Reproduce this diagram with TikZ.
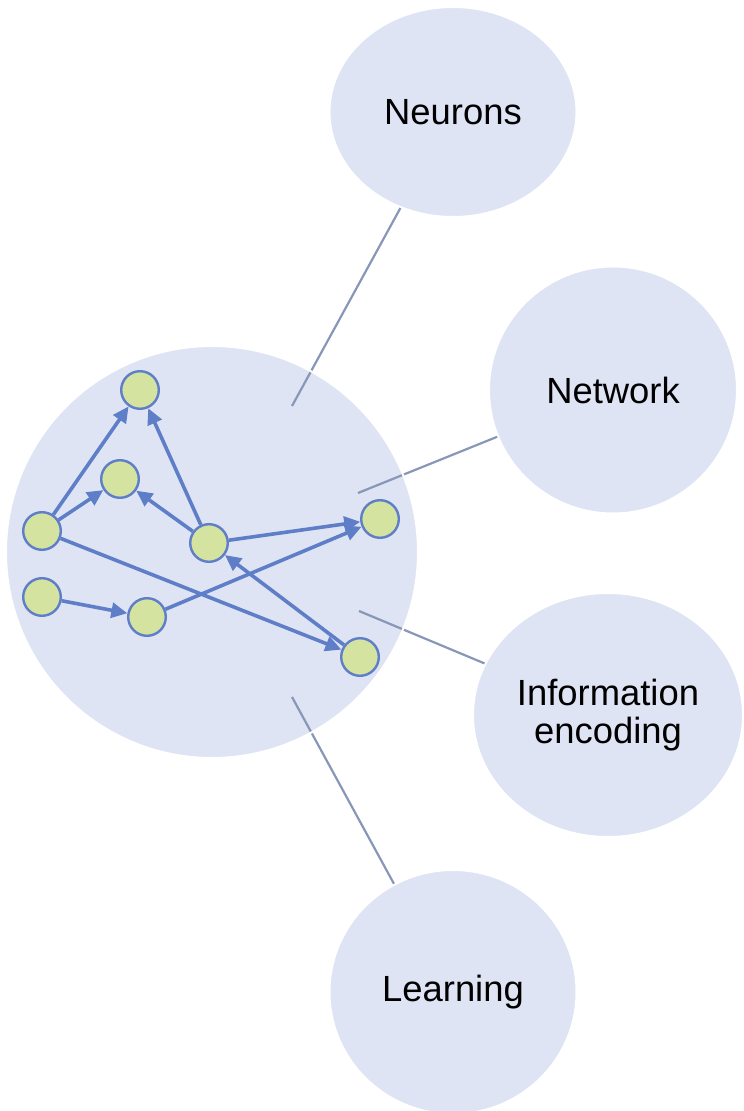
\documentclass[tikz,border=0pt]{standalone}
\usepackage{fontspec}
\setmainfont{Liberation Sans}
\usepackage{xcolor}
\usepackage{tikz}
\usetikzlibrary{arrows.meta,shapes.geometric}

\definecolor{bubble}{RGB}{223,228,244}
\definecolor{edgeblue}{RGB}{94,126,200}
\definecolor{cellgreen}{RGB}{213,227,160}
\definecolor{linkgray}{RGB}{136,150,184}

\begin{document}
\begin{tikzpicture}[x=0.5pt,y=-0.5pt,
    topic/.style={ellipse,fill=bubble,draw=white,line width=1pt,inner sep=0pt,
        font=\fontsize{18.2}{18.6}\selectfont,align=center},
    cell/.style={circle,fill=cellgreen,draw=edgeblue,line width=1.2pt,minimum size=18.8pt,inner sep=0pt},
    link/.style={draw=linkgray,line width=1.1pt},
    wire/.style={draw=edgeblue,line width=1.8pt,-{Triangle[length=8pt,width=7.5pt]}}]
    \useasboundingbox (0,0) rectangle (743,1111);

    \node[circle,fill=bubble,minimum size=206pt,inner sep=0pt] (hub) at (212,552) {};

    \node[topic,minimum width=123.5pt,minimum height=105pt] (neurons) at (453,112) {Neurons};
    \node[topic,minimum width=124pt,minimum height=123.5pt] (network) at (613,390) {Network};
    \node[topic,minimum width=135pt,minimum height=122pt] (encoding) at (608,715) {Information\\encoding};
    \node[topic,minimum width=123.5pt,minimum height=122pt] (learning) at (453,992) {Learning};

    \coordinate (c1) at (292,406);
    \coordinate (c2) at (358,493);
    \coordinate (c3) at (359,611);
    \coordinate (c4) at (292,697);
    \draw[link] (neurons) -- (c1);
    \draw[link] (network) -- (c2);
    \draw[link] (encoding) -- (c3);
    \draw[link] (learning) -- (c4);
    \draw[white,line width=1pt] (hub.center) circle [radius=103pt];

    \foreach \n/\x/\y in {n1/140/390, n2/120/479, n3/42/531, n4/209/543,
                          n5/380/519, n6/42/597, n7/147/617, n8/360/657}
        \node[cell] (\n) at (\x,\y) {};

    \foreach \a/\b in {n3/n1, n3/n2, n4/n1, n4/n2, n4/n5, n7/n5, n6/n7, n3/n8, n8/n4}
        \draw[wire] (\a) -- (\b);
\end{tikzpicture}
\end{document}
